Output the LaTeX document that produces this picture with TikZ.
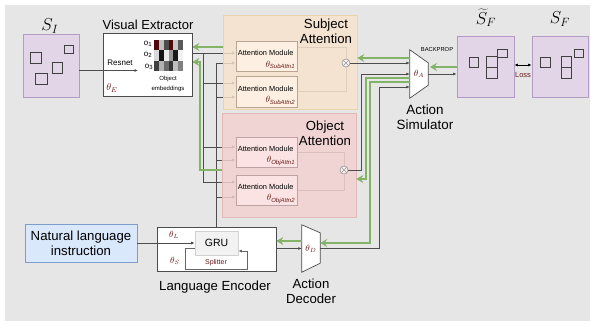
\documentclass[tikz,border=0pt]{standalone}
\usepackage{fontspec}
\setmainfont{Liberation Sans}
\usetikzlibrary{arrows.meta,calc}
\definecolor{bgC}{HTML}{E6E6E6}
\definecolor{purpF}{HTML}{E1D5E7}
\definecolor{purpD}{HTML}{B49BC6}
\definecolor{subjF}{HTML}{F6E3CC}
\definecolor{subjD}{HTML}{ECD3AE}
\definecolor{objF}{HTML}{F3D0CF}
\definecolor{objD}{HTML}{E3B9B8}
\definecolor{amSF}{HTML}{FDF0E2}
\definecolor{amSD}{HTML}{B8A693}
\definecolor{amOF}{HTML}{FAE3E2}
\definecolor{amOD}{HTML}{BFA3A3}
\definecolor{nlF}{HTML}{DAE8FC}
\definecolor{nlD}{HTML}{7D9CCB}
\definecolor{gC}{HTML}{82B366}
\definecolor{wireC}{HTML}{4D4D4D}
\definecolor{thC}{HTML}{6B1A1A}
\definecolor{hmR}{HTML}{500808}
\pgfdeclarelayer{back}
\pgfdeclarelayer{wires}
\pgfsetlayers{back,wires,main}
\begin{document}
\begin{tikzpicture}[x=1pt,y=-1pt,
  sbox/.style={draw=purpD,fill=purpF,line width=0.7pt,inner sep=0},
  wbox/.style={draw=black!70,fill=white,line width=0.7pt,inner sep=0},
  cont/.style={line width=0.7pt,inner sep=0,fill opacity=0.82},
  am/.style={line width=0.6pt,inner sep=0,minimum width=61,minimum height=30},
  amtxt/.style={font=\fontsize{7.4}{8}\selectfont,inner sep=0},
  thtxt/.style={font=\fontsize{9}{10}\selectfont,text=thC,inner sep=0},
  sq/.style={draw=black!75,line width=0.7pt},
  wire/.style={draw=wireC,line width=0.7pt,-{Latex[length=3.5pt,width=3pt]}},
  wirel/.style={draw=wireC!80,line width=0.7pt},
  gwire/.style={draw=gC,line width=2pt,-{Stealth[length=7pt,width=8pt,inset=2.5pt]}},
  ttl/.style={font=\fontsize{13.2}{15}\selectfont,align=center,inner sep=0},
  otim/.style={circle,draw=black!40,fill=white!70!objF,line width=0.6pt,minimum size=8,inner sep=0}]
\useasboundingbox (0,0) rectangle (593,324);
\begin{pgfonlayer}{back}
\fill[bgC] (5,5) rectangle (590,321);
\end{pgfonlayer}

% ---- state boxes
\node[sbox,minimum width=56,minimum height=63] (si) at (51,65.5) {};
\node[inner sep=0,font=\fontsize{18}{18}\selectfont] (silab) at (50,26) {$S_I$};
\draw[sq] (30,52) rectangle (41,63);
\draw[sq] (64,45) rectangle (73,53);
\draw[sq] (52,62) rectangle (62,73);
\draw[sq] (35,73) rectangle (47,84);

\node[sbox,minimum width=57,minimum height=61] (sft) at (485.5,66.5) {};
\node[inner sep=0,font=\fontsize{18}{18}\selectfont] (sftlab) at (486,18) {$\widetilde{S}_F$};
\draw[sq] (469,57) rectangle (478,67);
\draw[sq] (486,56) rectangle (497,67);
\draw[sq] (486,67) rectangle (497,78);
\draw[sq] (497,49) rectangle (507,57);

\node[sbox,minimum width=56,minimum height=61] (sf) at (560,66.5) {};
\node[inner sep=0,font=\fontsize{18}{18}\selectfont] (sflab) at (560,19) {$S_F$};
\draw[sq] (540,57) rectangle (550,67);
\draw[sq] (561,56) rectangle (571,67);
\draw[sq] (561,67) rectangle (571,78);
\draw[sq] (574,49) rectangle (583,57);

% ---- visual extractor
\node[wbox,minimum width=89,minimum height=63] (ve) at (147.5,64.5) {};
\node[ttl,font=\fontsize{13}{14}\selectfont] (vetitle) at (148,25) {Visual Extractor};
\node[inner sep=0,font=\fontsize{8}{9}\selectfont] (resnet) at (120,63) {Resnet};
\node[inner sep=0,font=\fontsize{10}{10}\selectfont,text=thC] (thE) at (112,88) {$\theta_E$};
\node[inner sep=0,font=\fontsize{8}{9}\selectfont] (o1) at (148,44) {o\textsubscript{1}};
\node[inner sep=0,font=\fontsize{8}{9}\selectfont] (o2) at (148,55) {o\textsubscript{2}};
\node[inner sep=0,font=\fontsize{8}{9}\selectfont] (o3) at (149,67) {o\textsubscript{3}};
\foreach \r/\k/\c in {0/0/hmR,0/1/black!25,0/2/black!70,0/3/hmR,0/4/black!22,0/5/black!65,
                      1/0/black!15,1/1/black!92,1/2/black!8,1/3/black!40,1/4/black!90,1/5/black!5,
                      2/0/black!75,2/1/black!30,2/2/black!58,2/3/black!78,2/4/black!25,2/5/black!50}
  {\fill[\c] ({154+\k*4.833},{40+\r*10.333}) rectangle ++(4.833,10.333);}
\node[inner sep=0,font=\fontsize{6}{10}\selectfont,align=center] (oemb) at (168,84) {Object\\embeddings};

% ---- attention containers
\node[cont,draw=subjD,fill=subjF,minimum width=134,minimum height=94] (subj) at (290,62) {};
\node[ttl] (subjtitle) at (326,31) {Subject\\Attention};
\node[cont,draw=objD,fill=objF,minimum width=134,minimum height=104] (obj) at (289,165) {};
\node[ttl] (objtitle) at (325,133) {Object\\Attention};

\node[am,draw=amSD,fill=amSF] (am1) at (266.5,56) {};
\node[am,draw=amSD,fill=amSF,minimum height=31] (am2) at (266.5,91.5) {};
\node[am,draw=amOD,fill=amOF] (am3) at (266.5,152) {};
\node[am,draw=amOD,fill=amOF] (am4) at (266.5,190) {};
\foreach \n/\s in {am1/SubAttn1,am2/SubAttn2,am3/ObjAttn1,am4/ObjAttn2}{
  \node[amtxt,anchor=west] (\n t) at ($(\n.west)+(2,-3)$) {Attention Module};
  \node[thtxt,anchor=east] (\n th) at ($(\n.east)+(-2,9)$) {$\theta_{\mathit{\s}}$};
}
\node[otim] (ot1) at (346,63) {};
\draw[black!40,line width=0.6pt] (ot1.north east) -- (ot1.south west) (ot1.north west) -- (ot1.south east);
\node[otim] (ot2) at (344,170) {};
\draw[black!40,line width=0.6pt] (ot2.north east) -- (ot2.south west) (ot2.north west) -- (ot2.south east);

% ---- action simulator
\node[inner sep=0,minimum width=18,minimum height=48] (sim) at (419,74) {};
\draw[fill=white,draw=black!70,line width=0.7pt] (sim.north west) -- ($(sim.north east)+(0,13)$) -- ($(sim.south east)+(0,-13)$) -- (sim.south west) -- cycle;
\node[inner sep=0,font=\fontsize{9}{9}\selectfont,text=thC] (thA) at (419,74) {$\theta_A$};
\node[ttl,font=\fontsize{13.4}{15}\selectfont] (simlab) at (425,117) {Action\\Simulator};
\node[inner sep=0,font=\fontsize{5.8}{6}\selectfont] (bp) at (437,50) {BACKPROP};
\node[inner sep=0,font=\fontsize{7.5}{8}\selectfont,text=thC] (loss) at (523,75) {Loss};

% ---- language side
\node[draw=nlD,fill=nlF,line width=0.7pt,minimum width=112,minimum height=38,inner sep=0,align=center,font=\fontsize{13.2}{15}\selectfont] (nl) at (81,243) {Natural language\\instruction};
\node[wbox,minimum width=119,minimum height=44] (le) at (216.5,249) {};
\node[ttl] (lelab) at (215,287) {Language Encoder};
\node[draw=black!18,fill=black!5,line width=0.6pt,minimum width=43,minimum height=24,inner sep=0,font=\fontsize{10.5}{11}\selectfont] (gru) at (216.5,243) {GRU};
\node[inner sep=0,font=\fontsize{7}{8}\selectfont,text=thC] (split) at (216,263) {Splitter};
\node[inner sep=0,font=\fontsize{9}{9}\selectfont,text=thC] (thL) at (174,235) {$\theta_L$};
\node[inner sep=0,font=\fontsize{9}{9}\selectfont,text=thC] (thS) at (175,261) {$\theta_S$};

% ---- action decoder
\node[inner sep=0,minimum width=18,minimum height=47] (dec) at (311,248.5) {};
\draw[fill=white,draw=black!70,line width=0.7pt] (dec.north west) -- ($(dec.north east)+(0,8)$) -- ($(dec.south east)+(0,-9)$) -- (dec.south west) -- cycle;
\node[inner sep=0,font=\fontsize{9}{9}\selectfont,text=thC] (thD) at (311,249) {$\theta_D$};
\node[ttl] (declab) at (311,291) {Action\\Decoder};

% ---- helper coordinates
\coordinate (a1i1) at ($(am1.west)+(0,-3)$);
\coordinate (a1i2) at ($(am1.west)+(0,7)$);
\coordinate (a2i1) at ($(am2.west)+(0,-8.5)$);
\coordinate (a2i2) at ($(am2.west)+(0,5.5)$);
\coordinate (a3i1) at ($(am3.west)+(0,-5)$);
\coordinate (a3i2) at ($(am3.west)+(0,8)$);
\coordinate (a4i1) at ($(am4.west)+(0,-8)$);
\coordinate (a4i2) at ($(am4.west)+(0,7)$);
\coordinate (vb) at (203,0);
\coordinate (y47) at (0,47);
\coordinate (y58) at (0,58);
\coordinate (y63) at (0,63);
\coordinate (y65) at (0,65);
\coordinate (y67) at (0,67);
\coordinate (y74) at (0,74);
\coordinate (y78) at (0,78);
\coordinate (y82) at (0,82);
\coordinate (y241) at (0,241);
\coordinate (e1) at (361,74);
\coordinate (gB) at (366,179);
\coordinate (gCc) at (370,243);
\coordinate (fF) at (379,87);
\coordinate (gG) at (200,62);
\coordinate (gH) at (430,67);
\coordinate (rs) at (138,70.5);

\begin{pgfonlayer}{wires}
% visual extractor bus
\draw[wire] (ve.east |- a1i1) -- (a1i1);
\draw[wire] (vb |- a1i1) |- (a2i1);
\draw[wire] (vb |- a1i1) |- (a3i1);
\draw[wire] (vb |- a1i1) |- (a4i1);
% language encoder bus
\draw[wire] (le.north) |- (a1i2);
\draw[wire] (le.north) |- (a2i2);
\draw[wire] (le.north) |- (a3i2);
\draw[wire] (le.north) |- (a4i2);
% attention modules to products
\draw[wirel] ($(am1.north east)+(0,7)$) -| (ot1.north);
\draw[wirel] (am2.east) -| (ot1.south);
\draw[wirel] (am3.east) -| (ot2.north);
\draw[wirel] (am4.east) -| (ot2.south);
% green into VE
\draw[gwire] (subj.west |- y47) -- (ve.east |- y47);
\draw[gwire] (obj.west |- ot2) -| (gG) -- (ve.east |- gG);
\end{pgfonlayer}

% products to simulator
\draw[wire] (ot1.east) -- (sim.west |- ot1.east);
\draw[wire] (ot2.east) -| (e1) -- (sim.west |- e1);
\draw[wire] (dec.east) -| (fF) -- (sim.west |- fF);
% green back from simulator
\draw[gwire] (sim.west |- y58) -- (subj.east |- y58);
\draw[gwire] (sim.west |- y78) -| (gB) -- (obj.east |- gB);
\draw[gwire] (sim.west |- y82) -| (gCc) -- (dec.east |- gCc);
\draw[gwire] (dec.west |- y241) -- (le.east |- y241);
% language encoder
\draw[wire] (le.east |- dec.west) -- (dec.west);
\draw[wire] (nl.east |- gru.west) -- (gru.west);
\draw[draw=black!60,line width=0.7pt,-{Latex[length=3.5pt,width=3pt]}] ($(gru.west)+(0,5)$) -- ++(-9,0) -- ++(0,21) -- ++(62,0) -- ++(0,-18) -- ($(gru.east)+(0,8)$);
% resnet
\draw[wire] ($(si.east)+(0,5)$) -- (rs);
% simulator to predicted state
\draw[wire] (sim.east |- y74) -- (sft.west |- y74);
\draw[gwire] (sft.west |- y67) -- (gH);
\draw[draw=black,line width=0.7pt,{Latex[length=3.5pt,width=3pt]}-{Latex[length=3.5pt,width=3pt]}] (sft.east |- y65) -- (sf.west |- y65);
\end{tikzpicture}
\end{document}
